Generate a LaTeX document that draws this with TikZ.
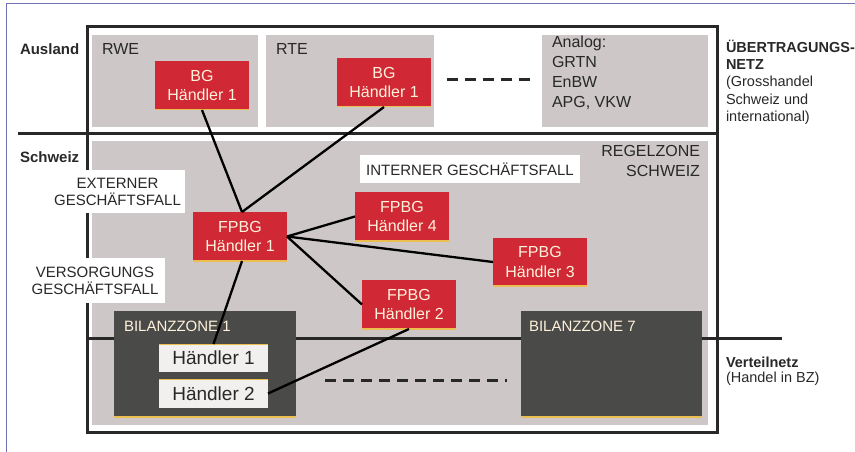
\documentclass[tikz,border=0pt]{standalone}
\usepackage{fontspec}
\setmainfont{Liberation Sans}
\definecolor{rzgray}{RGB}{205,199,200}
\definecolor{rzred}{RGB}{208,40,52}
\definecolor{rztext}{RGB}{255,242,220}
\definecolor{rzgold}{RGB}{236,190,80}
\definecolor{rzdark}{RGB}{74,74,72}
\definecolor{rzlight}{RGB}{242,240,238}
\definecolor{rzframe}{RGB}{112,112,180}
\definecolor{rzink}{RGB}{40,40,40}
\tikzset{
  every node/.style={inner sep=0pt, outer sep=0pt},
  area/.style={fill=rzgray},
  bottomgold/.style={path picture={\draw[line width=1.6pt, rzgold]
      (path picture bounding box.south west) -- (path picture bounding box.south east);}},
  topgold/.style={path picture={\draw[line width=1.6pt, rzgold]
      (path picture bounding box.north west) -- (path picture bounding box.north east);}},
  redbox/.style={fill=rzred, text=rztext, anchor=north west, align=center,
    font=\fontsize{16}{19.5}\selectfont, bottomgold},
  zonebox/.style={fill=rzdark, anchor=north west, bottomgold},
  zonetitle/.style={text=rztext, anchor=west, font=\fontsize{15}{18}\selectfont},
  traderbox/.style={fill=rzlight, text=rzink, anchor=north west,
    font=\fontsize{19}{22}\selectfont, topgold},
  casebox/.style={fill=white, text=rzink, align=center, anchor=north west,
    font=\fontsize{15}{17}\selectfont},
  arealabel/.style={text=rzink, anchor=west, align=left, font=\fontsize{16}{20}\selectfont},
  sidebold/.style={text=rzink, anchor=west, font=\bfseries\fontsize{14.5}{17}\selectfont},
  sidenote/.style={text=rzink, anchor=west, align=left, font=\fontsize{14.5}{17.5}\selectfont},
  link/.style={line width=2.3pt, black},
  levelrule/.style={line width=3pt, rzink},
  dashrule/.style={line width=3pt, rzink, dash pattern=on 11pt off 7pt},
}
\begin{document}
\begin{tikzpicture}[x=1pt, y=-1pt]
\useasboundingbox (0,0) rectangle (855,452);

% page border
\draw[rzframe, line width=1pt] (855,4) -- (6,4) -- (6,452);

% grey zones
\fill[area] (92,35) rectangle (258,127);
\fill[area] (266,35) rectangle (434,127);
\fill[area] (542,35) rectangle (708,127);
\fill[area] (92,141) rectangle (708,425);

% frame and transmission level
\draw[levelrule] (87,27) rectangle (717,432);
\draw[levelrule] (18,133) -- (717,133);

% distribution level, interrupted by the balancing zones
\draw[levelrule] (87,338) -- (114,338);
\draw[levelrule] (296,338) -- (521,338);
\draw[levelrule] (702,338) -- (782,338);

% dashed continuation marks
\draw[dashrule] (447,80) -- (532,80);
\draw[dashrule] (325,380) -- (507,380);

% balancing zones
\node[zonebox, minimum width=182pt, minimum height=106pt] (bz1) at (114,311) {};
\node[zonebox, minimum width=181pt, minimum height=106pt] (bz7) at (521,311) {};
\node[zonetitle] (bz1t) at (124,326) {BILANZZONE 1};
\node[zonetitle] (bz7t) at (529,326) {BILANZZONE 7};
\node[traderbox, minimum width=109pt, minimum height=28pt] (h1) at (159,344) {Händler 1};
\node[traderbox, minimum width=109pt, minimum height=29pt] (h2) at (159,379) {Händler 2};

% business case labels
\node[casebox, minimum width=135pt, minimum height=43pt] (ext) at (50,170) {EXTERNER\\GESCHÄFTSFALL};
\node[casebox, minimum width=140pt, minimum height=45pt] (vers) at (25,258) {VERSORGUNGS\\GESCHÄFTSFALL};
\node[casebox, minimum width=220pt, minimum height=28pt] (int) at (360,155) {INTERNER GESCHÄFTSFALL};

% area labels
\node[arealabel] (rwe) at (102,49) {RWE};
\node[arealabel] (rte) at (276,49) {RTE};
\node[arealabel, anchor=north west] (analog) at (552,36) {Analog:\\GRTN\\EnBW\\APG, VKW};
\node[arealabel, anchor=north east, align=right] (rz) at (700,145) {REGELZONE\\SCHWEIZ};

% side labels
\node[sidebold, font=\bfseries\fontsize{15}{18}\selectfont] (ausland) at (20,49) {Ausland};
\node[sidebold, font=\bfseries\fontsize{15}{18}\selectfont] (schweiz) at (20,157) {Schweiz};
\node[sidebold] (uenetz1) at (726,46) {ÜBERTRAGUNGS-};
\node[sidebold] (uenetz2) at (726,65) {NETZ};
\node[sidenote, anchor=north west] (uenote) at (726,76) {(Grosshandel\\Schweiz und\\international)};
\node[sidebold] (vnetz) at (726,362) {Verteilnetz};
\node[sidenote] (vnote) at (726,379) {(Handel in BZ)};

% traders
\node[redbox, minimum width=94pt, minimum height=49pt] (bgrwe) at (155,61) {BG\\Händler 1};
\node[redbox, minimum width=94pt, minimum height=49pt] (bgrte) at (337,58) {BG\\Händler 1};
\node[redbox, minimum width=94pt, minimum height=49pt] (fp1) at (193,212) {FPBG\\Händler 1};
\node[redbox, minimum width=94pt, minimum height=49pt] (fp4) at (355,192) {FPBG\\Händler 4};
\node[redbox, minimum width=94pt, minimum height=48pt] (fp3) at (493,238) {FPBG\\Händler 3};
\node[redbox, minimum width=94pt, minimum height=49pt] (fp2) at (362,280) {FPBG\\Händler 2};

% trading relations
\draw[link] (bgrwe.south) -- ([xshift=2pt]fp1.north);
\draw[link] (bgrte.south) -- ([xshift=2pt]fp1.north);
\draw[link] (fp1.east) -- (fp4.west);
\draw[link] (fp1.east) -- (fp3.west);
\draw[link] (fp1.east) -- (fp2.west);
\draw[link] ([xshift=2pt]fp1.south) -- (h1.north);
\draw[link] (h2.east) -- (fp2.south);
\end{tikzpicture}
\end{document}
